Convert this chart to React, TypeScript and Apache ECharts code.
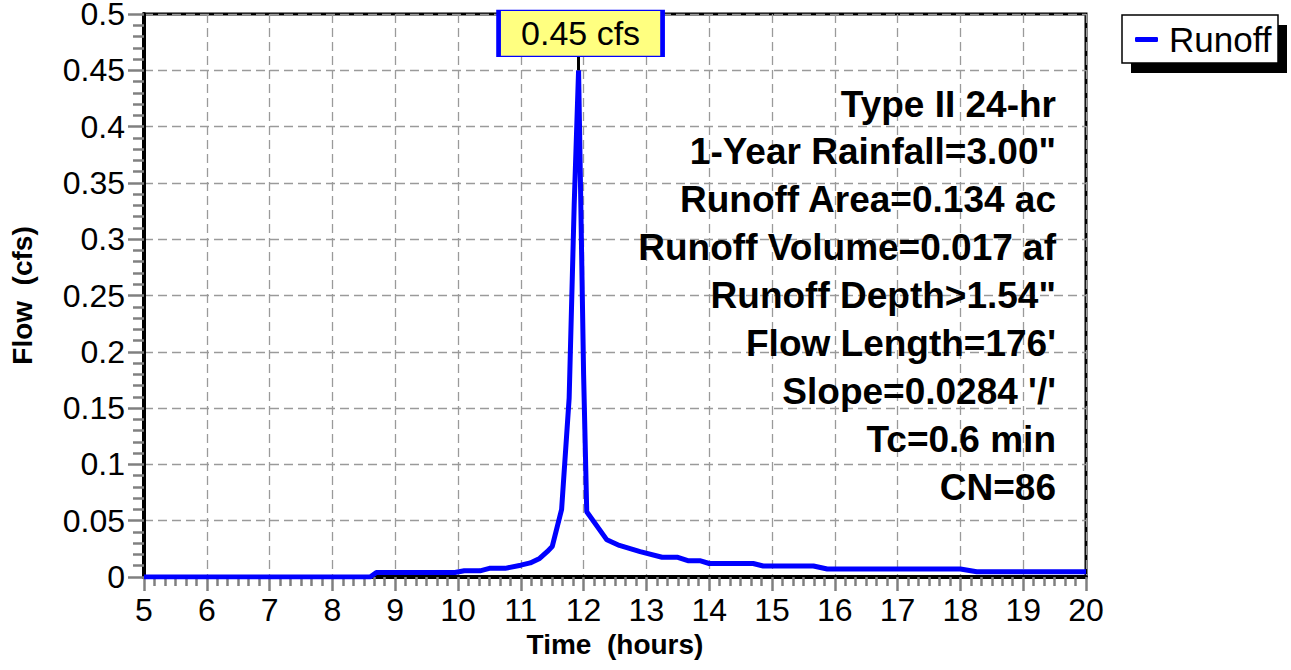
import React, { useEffect, useRef } from "react";
import * as echarts from "echarts";

// Hydrograph (hours, cfs)
const times = [5, 8.6, 8.7, 9.95, 10.1, 10.35, 10.5, 10.75, 11.0, 11.15, 11.3, 11.42, 11.5, 11.65, 11.77, 11.85, 11.92, 11.95, 12.0, 12.05, 12.37, 12.57, 12.9, 13.25, 13.5, 13.66, 13.85, 14.0, 14.7, 14.86, 15.66, 15.88, 18.0, 18.26, 20];
const flows = [0, 0, 0.004, 0.004, 0.0055, 0.0055, 0.0077, 0.0077, 0.0105, 0.0125, 0.0165, 0.0225, 0.027, 0.06, 0.159, 0.33, 0.45, 0.35, 0.18, 0.058, 0.033, 0.028, 0.0225, 0.0175, 0.0175, 0.0145, 0.0145, 0.012, 0.012, 0.0098, 0.0098, 0.0071, 0.0071, 0.0047, 0.0047];
const seriesName = "Runoff";
const peakUnit = "cfs";
const infoLines = [
  "Type II 24-hr",
  "1-Year Rainfall=3.00\"",
  "Runoff Area=0.134 ac",
  "Runoff Volume=0.017 af",
  "Runoff Depth>1.54\"",
  "Flow Length=176'",
  "Slope=0.0284 '/'",
  "Tc=0.6 min",
  "CN=86",
];
const xName = "Time  (hours)";
const yName = "Flow  (cfs)";
const xMin = 5, xMax = 20, xStep = 1;
const yMin = 0, yMax = 0.5, yStep = 0.05;

export default function App() {
  const ref = useRef<HTMLDivElement>(null);
  useEffect(() => {
    const chart = echarts.init(ref.current!, null, { renderer: "svg" });
    const font = "'Liberation Sans', Arial, sans-serif";
    const data = times.map((t, i) => [t, flows[i]]);
    let pi = 0;
    flows.forEach((f, i) => { if (f > flows[pi]) pi = i; });
    const peakT = times[pi];
    const peakF = flows[pi];
    const tickColor = "#808080";
    const gridLine = { show: true, lineStyle: { color: "#9a9a9a", width: 1.3, type: [9, 5] } };
    chart.setOption({
      animation: false,
      backgroundColor: "#ffffff",
      grid: {
        left: 144, top: 14, width: 942, height: 563, show: true, borderColor: "#000", borderWidth: 3,
        backgroundColor: "transparent", containLabel: false, outerBoundsMode: "none",
      },
      legend: {
        left: 1135, top: 22, padding: 0, itemWidth: 23, itemHeight: 5, icon: "roundRect", itemGap: 0,
        textStyle: { fontSize: 35, color: "#000", fontFamily: font, padding: [0, 0, 0, 6] },
        data: [seriesName],
      },
      xAxis: {
        type: "value", min: xMin, max: xMax, interval: xStep,
        name: xName, nameLocation: "middle", nameGap: 53,
        nameTextStyle: { fontSize: 28, fontWeight: "bold", color: "#000", fontFamily: font },
        axisLine: { show: true, lineStyle: { color: "#000", width: 4 } },
        axisTick: { show: true, length: 14, lineStyle: { color: tickColor, width: 2.5 } },
        minorTick: { show: true, splitNumber: 6, length: 9, lineStyle: { color: tickColor, width: 2.5 } },
        axisLabel: { fontSize: 32, color: "#000", fontFamily: font, margin: 17 },
        splitLine: gridLine,
      },
      yAxis: {
        type: "value", min: yMin, max: yMax, interval: yStep,
        name: yName, nameLocation: "middle", nameGap: 108, nameRotate: 90,
        nameTextStyle: { fontSize: 28, fontWeight: "bold", color: "#000", fontFamily: font },
        axisLine: { show: true, lineStyle: { color: "#000", width: 4 } },
        axisTick: { show: true, length: 16, lineStyle: { color: tickColor, width: 2.5 } },
        minorTick: { show: true, splitNumber: 5, length: 11, lineStyle: { color: tickColor, width: 2.5 } },
        axisLabel: { fontSize: 32, color: "#000", fontFamily: font, margin: 19 },
        splitLine: gridLine,
      },
      series: [
        {
          type: "line", name: seriesName, data, color: "#0000ff",
          symbol: "none", showSymbol: false,
          lineStyle: { color: "#0000ff", width: 5 },
          markLine: {
            silent: true, symbol: ["none", "none"], label: { show: false },
            lineStyle: { color: "#000", width: 3, type: "solid" },
            data: [[{ coord: [peakT, peakF] }, { coord: [peakT, yMax] }]],
          },
          markPoint: {
            silent: true, symbol: "rect", symbolSize: [164, 46], symbolOffset: [2, -37],
            itemStyle: { color: "#ffff80", borderColor: "#0000ff", borderWidth: 2.5 },
            label: {
              show: true, position: "inside", color: "#000", fontSize: 34, fontFamily: font,
              formatter: (p: any) => `${Number(p.value).toFixed(2)} ${peakUnit}`,
            },
            data: [{ coord: [peakT, peakF], value: peakF }],
          },
        },
      ],
      graphic: [
        { type: "rect", z: 1, shape: { x: 1131, y: 25, width: 156, height: 48 }, style: { fill: "#000" } },
        { type: "rect", z: 2, shape: { x: 1122, y: 15, width: 156, height: 48 }, style: { fill: "#fff", stroke: "#000", lineWidth: 1.5 } },
        ...infoLines.map((s, i) => ({
          type: "text", z: 10, x: 1056, y: 104 + i * 47.9,
          style: {
            text: s, font: `bold 37px ${font}`, fill: "#000",
            textAlign: "right", textVerticalAlign: "middle", align: "right", verticalAlign: "middle",
          },
        })),
      ],
    });
    return () => chart.dispose();
  }, []);
  return <div ref={ref} style={{ position: "fixed", left: 0, top: 0, width: 1291, height: 670, background: "#fff" }} />;
}
